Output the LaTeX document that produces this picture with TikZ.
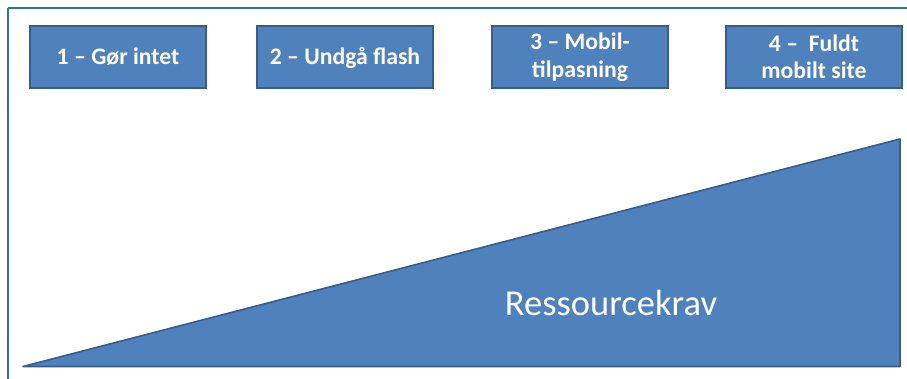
\documentclass[tikz,border=0pt]{standalone}
\usepackage{fontspec}
\setmainfont{Carlito}
\definecolor{boxfill}{RGB}{79,129,189}
\definecolor{boxline}{RGB}{56,93,138}
\definecolor{frameline}{RGB}{49,119,128}
\begin{document}
\begin{tikzpicture}[x=1pt,y=1pt,
  stagebox/.style={draw=boxline,line width=1.6pt,fill=boxfill,text=white,
    minimum width=176pt,minimum height=62pt,inner sep=0pt,align=center,
    font=\fontsize{23.7}{27.5}\selectfont\bfseries},
  oneline/.style={text height=17pt,text depth=2pt},
  ramp/.style={draw=boxline,line width=1.6pt,fill=boxfill,line join=round},
  frameln/.style={draw=frameline,line width=2.2pt}]
\useasboundingbox (0,0) rectangle (907,379);
\fill[white] (0,0) rectangle (907,379);
% frame
\coordinate (fl) at (8,0);
\coordinate (fc) at (8,371);
\coordinate (fr) at (907,371);
\draw[frameln] (fl) -- (fc);
\draw[frameln] (fc) -- (fr);
% stages
\node[stagebox,oneline] (b1) at (118,322) {1 – Gør intet};
\node[stagebox,oneline] (b2) at (345,322) {2 – Undgå flash};
\node[stagebox] (b3) at (580,322) {3 – Mobil-\\tilpasning};
\node[stagebox] (b4) at (814,322) {4 –\ \ Fuldt\\mobilt site};
% ramp
\coordinate (t1) at (23,12.5);
\coordinate (t2) at (900,240);
\coordinate (t3) at (900,12.5);
\draw[ramp] (t1) -- (t2) -- (t3) -- cycle;
\node[text=white,font=\fontsize{36.5}{40}\selectfont,anchor=base,inner sep=0pt] (rk) at (611,63) {Ressourcekrav};
\end{tikzpicture}
\end{document}
